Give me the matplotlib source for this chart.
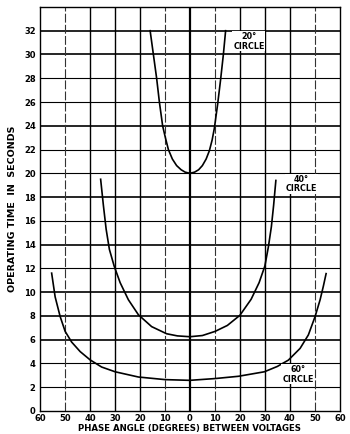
import numpy as np
import matplotlib
matplotlib.use("Agg")
import matplotlib.pyplot as plt

# phase angle (deg) vs operating time (s)
angle_20 = [-15.9, -14.6, -13.3, -12.2, -10.9, -9.8, -8.6, -7.0, -5.3, -3.5, -1.9, 0.0,
            1.9, 3.5, 5.0, 6.5, 7.8, 8.9, 9.8, 11.1, 12.3, 13.4, 14.3]
time_20 = [32.0, 30.0, 28.0, 26.0, 24.0, 23.0, 22.0, 21.2, 20.65, 20.3, 20.1, 20.0,
           20.1, 20.3, 20.65, 21.2, 21.9, 22.8, 23.8, 25.8, 27.9, 30.0, 32.0]

angle_40 = [-35.7, -34.6, -33.5, -32.2, -30.3, -27.9, -24.6, -20.6, -15.3, -9.3, -5.0, 0.0,
            5.0, 10.1, 15.0, 20.0, 24.5, 27.7, 30.0, 31.4, 32.6, 33.5, 34.4]
time_40 = [19.5, 17.3, 15.3, 13.6, 12.2, 10.8, 9.36, 8.1, 7.1, 6.5, 6.32, 6.25,
           6.35, 6.7, 7.2, 8.05, 9.4, 10.8, 12.2, 13.8, 15.5, 17.3, 19.4]

angle_60 = [-55.3, -53.9, -51.9, -49.9, -47.3, -43.9, -39.9, -35.3, -29.9, -20.6, -9.9, 0.0,
            10.1, 19.4, 29.8, 35.0, 39.4, 44.1, 47.4, 50.1, 52.1, 53.4, 54.5]
time_60 = [11.6, 9.6, 7.95, 6.7, 5.8, 5.0, 4.3, 3.7, 3.3, 2.86, 2.64, 2.58,
           2.73, 2.92, 3.3, 3.75, 4.28, 5.27, 6.4, 7.95, 9.36, 10.5, 11.56]

x_ticks = list(range(-60, 61, 10))
x_tick_labels = [str(abs(v)) for v in x_ticks]
y_ticks = list(range(0, 33, 2))

font = "DejaVu Sans"

fig = plt.figure(figsize=(3.5, 4.34), dpi=100)
ax = fig.add_axes([0.114, 0.053, 0.857, 0.931])
ax.set_xlim(-60, 60)
ax.set_ylim(0, 34)

# grid, hand drawn on the original so widths vary a bit
heavy_y = {6, 8, 10, 14, 18, 24, 30, 32}
for y in y_ticks[1:]:
    lw = 1.2 if y in heavy_y else 0.8
    ax.axhline(y, color="black", lw=lw, zorder=1)
for x in x_ticks[1:-1]:
    if x == 0:
        ax.axvline(x, color="black", lw=1.6, zorder=1)
    elif x in (-40, -30, 30, 40, -20, 20):
        ax.axvline(x, color="black", lw=1.0, zorder=1)
    else:
        ax.axvline(x, color="#333333", lw=0.8, ls=(0, (8, 2)), zorder=1)

ax.plot(angle_20, time_20, color="black", lw=1.2, zorder=3)
ax.plot(angle_40, time_40, color="black", lw=1.2, zorder=3)
ax.plot(angle_60, time_60, color="black", lw=1.2, zorder=3)

label_kw = dict(ha="center", va="center", fontsize=5.8, fontweight="bold",
                family=font, linespacing=1.1, zorder=4,
                bbox=dict(facecolor="white", edgecolor="none", pad=0.5))
ax.text(23.6, 31.1, "20°\nCIRCLE", **label_kw)
ax.text(44.6, 19.1, "40°\nCIRCLE", **label_kw)
ax.text(43.2, 3.1, "60°\nCIRCLE", **label_kw)

ax.set_xticks(x_ticks)
ax.set_xticklabels(x_tick_labels, fontsize=6, fontweight="bold", family=font)
ax.set_yticks(y_ticks)
ax.set_yticklabels([str(v) for v in y_ticks], fontsize=6, fontweight="bold", family=font)
ax.tick_params(axis="y", length=0, pad=3)
ax.tick_params(axis="x", length=0, pad=2)

for s in ax.spines.values():
    s.set_linewidth(1.0)

ax.set_xlabel("PHASE ANGLE (DEGREES) BETWEEN VOLTAGES", fontsize=6.2,
              fontweight="bold", family=font, labelpad=1)
ax.set_ylabel("OPERATING TIME  IN  SECONDS", fontsize=6.8, fontweight="bold",
              family=font, labelpad=5)

fig.savefig("out.png", dpi=100)
